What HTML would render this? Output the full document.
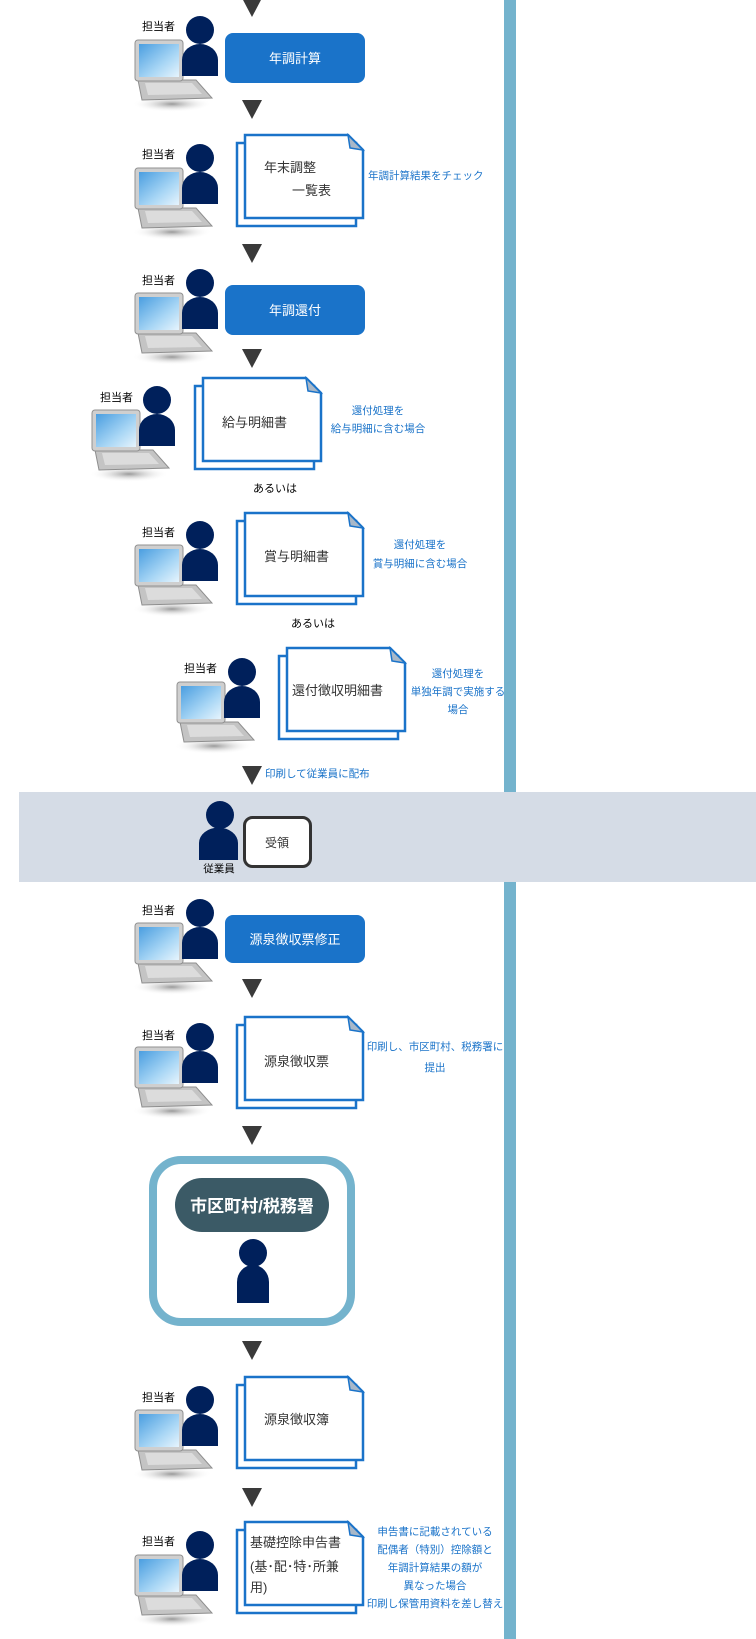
<!DOCTYPE html>
<html><head><meta charset="utf-8"><style>
html,body{margin:0;padding:0;background:#fff;}
svg{display:block;}
text{font-family:"Liberation Sans","Noto Sans CJK JP",sans-serif;}
.d{font-size:13px;fill:#333;}
.b{font-size:10.5px;fill:#1a73c9;}
.w{font-size:13px;fill:#fff;}
.k{font-size:11px;fill:#000;}
</style></head><body>
<svg width="756" height="1639" viewBox="0 0 756 1639" xmlns="http://www.w3.org/2000/svg">
<defs>
<linearGradient id="scr" x1="0" y1="0" x2="1" y2="1">
<stop offset="0" stop-color="#4a9ee0"/><stop offset="0.6" stop-color="#a8d6f5"/><stop offset="1" stop-color="#e6f4fd"/>
</linearGradient>
<radialGradient id="sh"><stop offset="0" stop-color="#999"/><stop offset="1" stop-color="#fff" stop-opacity="0"/></radialGradient>
<g id="pc">
<ellipse cx="-28" cy="74" rx="40" ry="8" fill="url(#sh)"/>
<polygon points="-62,50 -4,50 12,68 -58,70" fill="#c4c4c4" stroke="#8e8e8e" stroke-width="1"/>
<polygon points="-55,53 -8,53 2,64 -52,65" fill="#dcdcdc"/>
<rect x="-65" y="10" width="48" height="41" rx="3" fill="#cfcfcf" stroke="#909090"/>
<rect x="-61" y="14" width="40" height="33" fill="url(#scr)"/>
<circle cx="0" cy="0" r="14" fill="#00205b"/>
<path d="M-18 46 V30 A18 16 0 0 1 18 30 V46 Z" fill="#00205b"/>
</g>
<g id="doc">
<rect x="-8" y="8" width="119" height="83" fill="#fff" stroke="#1a73c9" stroke-width="2.5"/>
<polygon points="0,0 103,0 118,15 118,83 0,83" fill="#fff" stroke="#1a73c9" stroke-width="2.5"/>
<polygon points="103,0 118,15 105,13" fill="#a9b8c8" stroke="#1a73c9" stroke-width="1.5"/>
</g>
<polygon id="ar" points="-10,0 10,0 0,19" fill="#3a3a3a"/>
</defs>

<rect x="504" y="0" width="12" height="1639" fill="#74b3cd"/>

<use href="#ar" x="252" y="-2"/>
<use href="#ar" x="252" y="100"/>
<use href="#ar" x="252" y="244"/>
<use href="#ar" x="252" y="349"/>
<use href="#ar" x="252" y="766"/>
<use href="#ar" x="252" y="979"/>
<use href="#ar" x="252" y="1126"/>
<use href="#ar" x="252" y="1341"/>
<use href="#ar" x="252" y="1488"/>

<use href="#pc" x="200" y="30"/><text class="k" x="142" y="30">担当者</text>
<rect x="225" y="33" width="140" height="50" rx="8" fill="#1a73c9"/>
<text class="w" x="295" y="63" text-anchor="middle">年調計算</text>

<use href="#pc" x="200" y="158"/><text class="k" x="142" y="158">担当者</text>
<use href="#doc" x="245" y="135"/>
<text class="d" x="264" y="172">年末調整</text><text class="d" x="292" y="195">一覧表</text>
<text class="b" x="368" y="179">年調計算結果をチェック</text>

<use href="#pc" x="200" y="283"/><text class="k" x="142" y="284">担当者</text>
<rect x="225" y="285" width="140" height="50" rx="8" fill="#1a73c9"/>
<text class="w" x="295" y="315" text-anchor="middle">年調還付</text>

<use href="#pc" x="157" y="400"/><text class="k" x="100" y="401">担当者</text>
<use href="#doc" x="203" y="378"/>
<text class="d" x="222" y="427">給与明細書</text>
<text class="b" x="378" y="414" text-anchor="middle">還付処理を</text>
<text class="b" x="378" y="432" text-anchor="middle">給与明細に含む場合</text>
<text class="k" x="275" y="492" text-anchor="middle">あるいは</text>

<use href="#pc" x="200" y="535"/><text class="k" x="142" y="536">担当者</text>
<use href="#doc" x="245" y="513"/>
<text class="d" x="264" y="561">賞与明細書</text>
<text class="b" x="420" y="548" text-anchor="middle">還付処理を</text>
<text class="b" x="420" y="567" text-anchor="middle">賞与明細に含む場合</text>
<text class="k" x="313" y="627" text-anchor="middle">あるいは</text>

<use href="#pc" x="242" y="672"/><text class="k" x="184" y="672">担当者</text>
<use href="#doc" x="287" y="648"/>
<text class="d" x="292" y="695">還付徴収明細書</text>
<text class="b" x="458" y="677" text-anchor="middle">還付処理を</text>
<text class="b" x="458" y="695" text-anchor="middle">単独年調で実施する</text>
<text class="b" x="458" y="713" text-anchor="middle">場合</text>

<text class="b" x="265" y="777">印刷して従業員に配布</text>

<rect x="19" y="792" width="737" height="90" fill="#d5dce6"/>
<circle cx="220" cy="815" r="14" fill="#00205b"/>
<path d="M199 860 V843 A19 15 0 0 1 238 843 V860 Z" fill="#00205b"/>
<text class="k" x="219" y="872" text-anchor="middle" style="font-size:10.5px">従業員</text>
<rect x="244.5" y="817.5" width="66" height="49" rx="8" fill="#fff" stroke="#333" stroke-width="3"/>
<text class="d" x="277" y="847" text-anchor="middle" style="font-size:12px">受領</text>

<use href="#pc" x="200" y="913"/><text class="k" x="142" y="914">担当者</text>
<rect x="225" y="915" width="140" height="48" rx="8" fill="#1a73c9"/>
<text class="w" x="295" y="944" text-anchor="middle">源泉徴収票修正</text>

<use href="#pc" x="200" y="1037"/><text class="k" x="142" y="1039">担当者</text>
<use href="#doc" x="245" y="1017"/>
<text class="d" x="264" y="1066">源泉徴収票</text>
<text class="b" x="435" y="1050" text-anchor="middle">印刷し、市区町村、税務署に</text>
<text class="b" x="435" y="1071" text-anchor="middle">提出</text>

<rect x="153" y="1160" width="198" height="162" rx="28" fill="#fff" stroke="#74b3cd" stroke-width="8"/>
<rect x="175" y="1178" width="154" height="54" rx="27" fill="#3b5a66"/>
<text x="252" y="1212" text-anchor="middle" style="font-size:17px;font-weight:bold;fill:#fff">市区町村/税務署</text>
<circle cx="253" cy="1253" r="14" fill="#00205b"/>
<path d="M237 1303 V1282 A16 17 0 0 1 269 1282 V1303 Z" fill="#00205b"/>

<use href="#pc" x="200" y="1400"/><text class="k" x="142" y="1401">担当者</text>
<use href="#doc" x="245" y="1377"/>
<text class="d" x="264" y="1424">源泉徴収簿</text>

<use href="#pc" x="200" y="1545"/><text class="k" x="142" y="1545">担当者</text>
<use href="#doc" x="245" y="1522"/>
<text class="d" x="250" y="1547">基礎控除申告書</text>
<text class="d" x="250" y="1571">(基･配･特･所兼</text>
<text class="d" x="250" y="1592">用)</text>
<text class="b" x="435" y="1535" text-anchor="middle">申告書に記載されている</text>
<text class="b" x="435" y="1553" text-anchor="middle">配偶者（特別）控除額と</text>
<text class="b" x="435" y="1571" text-anchor="middle">年調計算結果の額が</text>
<text class="b" x="435" y="1589" text-anchor="middle">異なった場合</text>
<text class="b" x="435" y="1607" text-anchor="middle">印刷し保管用資料を差し替え</text>
</svg>
</body></html>
